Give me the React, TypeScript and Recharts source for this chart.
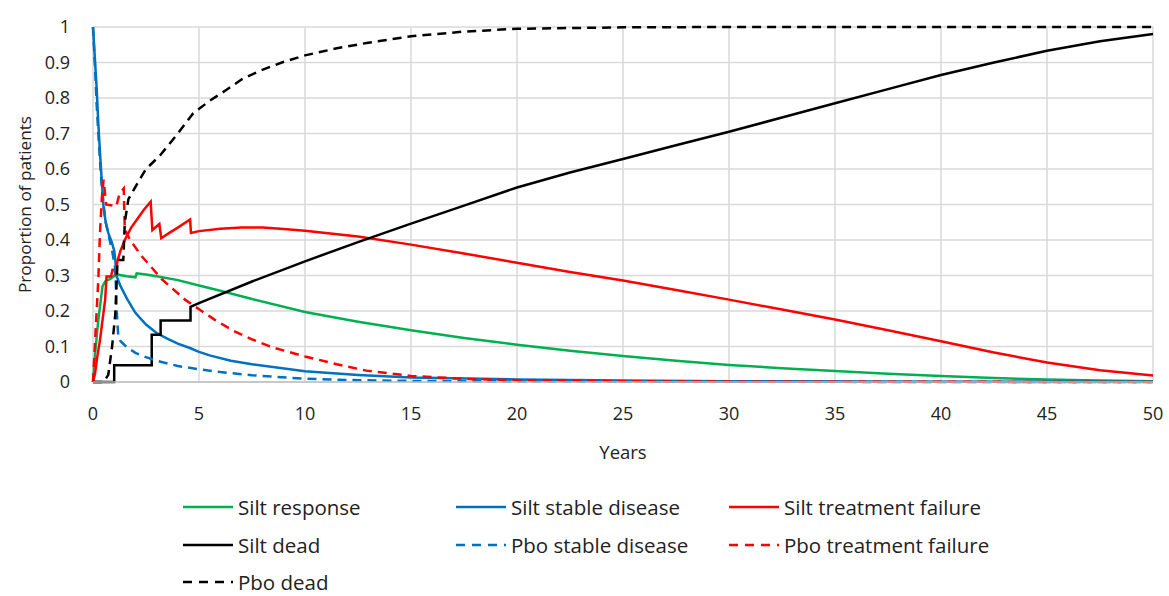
import { LineChart, Line, XAxis, YAxis, CartesianGrid } from 'recharts'

// years on x, proportion of patients on y
const siltResponse: [number, number][] = [
  [0, 0], [0.1, 0.08], [0.25, 0.175], [0.45, 0.27], [0.6, 0.285], [0.8, 0.29], [1.1, 0.303],
  [1.6, 0.298], [2.0, 0.295], [2.06, 0.306], [2.5, 0.303], [3, 0.298], [4, 0.287], [5, 0.272],
  [6, 0.257], [7.5, 0.234], [10, 0.197], [12.5, 0.17], [15, 0.146], [17.5, 0.124], [20, 0.105],
  [22.5, 0.088], [25, 0.073], [27.5, 0.06], [30, 0.048], [32.5, 0.039], [35, 0.031],
  [37.5, 0.023], [40, 0.017], [42.5, 0.011], [45, 0.007], [47.5, 0.004], [50, 0.002],
]

const siltStable: [number, number][] = [
  [0, 1], [0.08, 0.92], [0.17, 0.83], [0.25, 0.73], [0.33, 0.645], [0.42, 0.56], [0.5, 0.49],
  [0.6, 0.45], [0.72, 0.42], [0.88, 0.395], [1.0, 0.37], [1.05, 0.345], [1.1, 0.3], [1.3, 0.27],
  [1.6, 0.235], [2, 0.195], [2.5, 0.162], [3, 0.138], [3.5, 0.122], [4, 0.108], [4.6, 0.095],
  [5, 0.085], [5.5, 0.075], [6.5, 0.06], [7.5, 0.05], [10, 0.03], [12.5, 0.02], [15, 0.013],
  [20, 0.007], [25, 0.004], [30, 0.002], [40, 0.001], [50, 0.0005],
]

const siltFailure: [number, number][] = [
  [0, 0], [0.1, 0.025], [0.2, 0.07], [0.33, 0.118], [0.45, 0.175], [0.57, 0.23], [0.64, 0.297],
  [0.85, 0.297], [0.92, 0.316], [1.02, 0.316], [1.07, 0.3], [1.15, 0.34], [1.3, 0.37],
  [1.5, 0.4], [1.8, 0.435], [2.1, 0.46], [2.4, 0.485], [2.72, 0.508], [2.8, 0.428],
  [3.13, 0.445], [3.22, 0.405], [3.6, 0.42], [4, 0.435], [4.58, 0.458], [4.62, 0.42],
  [5, 0.425], [6, 0.432], [7, 0.435], [8, 0.435], [9, 0.431], [10, 0.426], [12.5, 0.41],
  [15, 0.387], [17.5, 0.362], [20, 0.336], [22.5, 0.31], [25, 0.286], [27.5, 0.259],
  [30, 0.232], [32.5, 0.204], [35, 0.176], [37.5, 0.146], [40, 0.115], [42.5, 0.083],
  [45, 0.055], [47.5, 0.033], [50, 0.018],
]

const siltDead: [number, number][] = [
  [0, 0], [1.0, 0], [1.0, 0.047], [2.77, 0.047], [2.77, 0.133], [3.19, 0.133], [3.19, 0.173],
  [4.6, 0.173], [4.6, 0.212], [5, 0.222], [7.5, 0.283], [10, 0.34], [12.5, 0.394], [15, 0.446],
  [17.5, 0.497], [20, 0.548], [22.5, 0.59], [25, 0.628], [27.5, 0.667], [30, 0.705],
  [32.5, 0.745], [35, 0.785], [37.5, 0.825], [40, 0.865], [42.5, 0.9], [45, 0.933],
  [47.5, 0.96], [50, 0.98],
]

const pboStable: [number, number][] = [
  [0, 1], [0.1, 0.88], [0.17, 0.785], [0.25, 0.7], [0.33, 0.625], [0.41, 0.55], [0.5, 0.5],
  [0.6, 0.45], [0.75, 0.41], [0.9, 0.37], [1.05, 0.32], [1.12, 0.2], [1.19, 0.13], [1.3, 0.115],
  [1.6, 0.098], [2, 0.082], [2.5, 0.07], [3, 0.06], [4, 0.045], [5, 0.036], [6, 0.028],
  [7.5, 0.019], [10, 0.009], [12.5, 0.005], [15, 0.003], [20, 0.0015], [30, 0.0005], [50, 0],
]

const pboFailure: [number, number][] = [
  [0, 0], [0.1, 0.118], [0.25, 0.287], [0.33, 0.42], [0.42, 0.52], [0.5, 0.57], [0.62, 0.5],
  [1.1, 0.495], [1.25, 0.53], [1.45, 0.545], [1.5, 0.43], [1.75, 0.4], [2.29, 0.355],
  [3.24, 0.29], [4.34, 0.232], [5, 0.205], [5.75, 0.175], [6.6, 0.145], [7.5, 0.12],
  [8.5, 0.097], [10, 0.072], [11.5, 0.05], [12.9, 0.032], [15, 0.017], [17.5, 0.009],
  [20, 0.005], [25, 0.002], [30, 0.001], [50, 0],
]

const pboDead: [number, number][] = [
  [0, 0], [0.5, 0], [0.72, 0.02], [0.9, 0.1], [1.05, 0.19], [1.15, 0.33], [1.19, 0.344],
  [1.43, 0.344], [1.5, 0.45], [1.67, 0.515], [2.1, 0.56], [2.5, 0.6], [3.16, 0.638],
  [4, 0.7], [4.73, 0.757], [5.5, 0.792], [6.3, 0.823], [7, 0.852], [7.88, 0.877],
  [9, 0.902], [10, 0.92], [11.5, 0.94], [12.9, 0.955], [15, 0.974], [17.5, 0.987],
  [20, 0.995], [25, 0.999], [30, 1], [50, 1],
]

const xTicks = [0, 5, 10, 15, 20, 25, 30, 35, 40, 45, 50]
const yTicks = [0, 0.1, 0.2, 0.3, 0.4, 0.5, 0.6, 0.7, 0.8, 0.9, 1]

const GREEN = '#00b050'
const BLUE = '#0070c0'
const RED = '#ff0000'
const BLACK = '#000000'
const DASH = '9 6'
const FONT = '"Open Sans", "Noto Sans", sans-serif'
const FS = 18
const TEXT = '#222222'

const SERIES = [
  { name: 'Silt response', data: siltResponse, color: GREEN, dash: undefined },
  { name: 'Silt stable disease', data: siltStable, color: BLUE, dash: undefined },
  { name: 'Silt treatment failure', data: siltFailure, color: RED, dash: undefined },
  { name: 'Silt dead', data: siltDead, color: BLACK, dash: undefined },
  { name: 'Pbo stable disease', data: pboStable, color: BLUE, dash: DASH },
  { name: 'Pbo treatment failure', data: pboFailure, color: RED, dash: DASH },
  { name: 'Pbo dead', data: pboDead, color: BLACK, dash: DASH },
]

const toPoints = (arr: [number, number][]) => arr.map(([x, y]) => ({ x, y }))

function LegendBox() {
  return (
    <div
      style={{
        position: 'absolute', left: 182, top: 497,
        display: 'grid', gridTemplateColumns: '273px 273px 273px', gridAutoRows: '20px', rowGap: 17.5,
        fontFamily: FONT, fontSize: 20.5, color: TEXT,
      }}
    >
      {SERIES.map((s) => (
        <div key={s.name} style={{ display: 'flex', alignItems: 'center', height: 20, lineHeight: '20px' }}>
          <svg width={52} height={10} style={{ marginRight: 4, flex: 'none' }}>
            <line x1={1} y1={5} x2={51} y2={5} stroke={s.color} strokeWidth={2.5} strokeDasharray={s.dash ? '9 7' : undefined} />
          </svg>
          <span style={{ whiteSpace: 'nowrap' }}>{s.name}</span>
        </div>
      ))}
    </div>
  )
}

export default function App() {
  return (
    <div style={{ position: 'absolute', left: 0, top: 0, width: 1169, height: 596, background: '#fff', overflow: 'hidden' }}>
      <LineChart width={1169} height={596} margin={{ top: 27, right: 16, left: 0, bottom: 0 }}>
        <CartesianGrid stroke="#d9d9d9" strokeWidth={1.5} />
        <XAxis
          dataKey="x"
          type="number"
          domain={[0, 50]}
          ticks={xTicks}
          interval={0}
          height={214}
          tickSize={0}
          tickMargin={25}
          axisLine={{ stroke: '#bfbfbf', strokeWidth: 1.5 }}
          tickLine={false}
          tick={{ fill: TEXT, fontSize: FS, fontFamily: FONT }}
          label={{
            content: (p: any) => (
              <text x={p.viewBox.x + p.viewBox.width / 2} y={p.viewBox.y + 77} textAnchor="middle" fill={TEXT} fontSize={18.5} fontFamily={FONT}>
                Years
              </text>
            ),
          }}
        />
        <YAxis
          type="number"
          domain={[0, 1]}
          ticks={yTicks}
          interval={0}
          width={93}
          tickSize={0}
          tickMargin={23}
          axisLine={false}
          tickLine={false}
          tickFormatter={(v: number) => String(Number(v.toFixed(1)))}
          tick={{ fill: TEXT, fontSize: FS, fontFamily: FONT }}
          label={{
            content: (p: any) => {
              const cy = p.viewBox.y + p.viewBox.height / 2
              return (
                <text x={24} y={cy} transform={`rotate(-90 24 ${cy})`} textAnchor="middle" dominantBaseline="central" fill={TEXT} fontSize={17.2} fontFamily={FONT}>
                  Proportion of patients
                </text>
              )
            },
          }}
        />
        {SERIES.map((s) => (
          <Line
            key={s.name}
            data={toPoints(s.data)}
            dataKey="y"
            name={s.name}
            type="linear"
            stroke={s.color}
            strokeWidth={2.5}
            strokeDasharray={s.dash}
            dot={false}
            activeDot={false}
            isAnimationActive={false}
          />
        ))}
      </LineChart>
      <LegendBox />
    </div>
  )
}
